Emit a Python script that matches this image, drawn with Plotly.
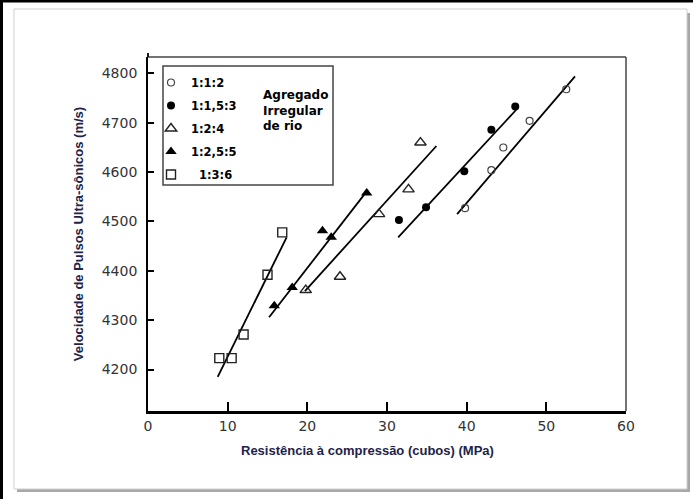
import plotly.graph_objects as go

# ---------------- data ----------------
series_names = ["1:1:2", "1:1,5:3", "1:2:4", "1:2,5:5", "\u00a0\u00a01:3:6"]

x_112 = [39.8, 43.1, 44.6, 47.9, 52.5]
y_112 = [4527, 4604, 4650, 4704, 4768]

x_1153 = [31.5, 34.9, 39.7, 43.1, 46.1]
y_1153 = [4503, 4529, 4602, 4686, 4733]

x_124 = [19.8, 24.1, 29.0, 32.7, 34.2]
y_124 = [4361, 4388, 4515, 4565, 4660]

x_1255 = [15.85, 18.1, 21.9, 23.0, 27.45]
y_1255 = [4329, 4366, 4481, 4468, 4558]

x_136 = [8.95, 10.5, 12.0, 15.0, 16.85]
y_136 = [4223, 4223, 4271, 4392, 4478]

# fitted lines (start / end of each regression line)
fit_x_112 = [38.8, 53.6];  fit_y_112 = [4515, 4794]
fit_x_1153 = [31.4, 46.2]; fit_y_1153 = [4468, 4726]
fit_x_124 = [19.7, 36.2];  fit_y_124 = [4359, 4653]
fit_x_1255 = [15.2, 27.6]; fit_y_1255 = [4306, 4564]
fit_x_136 = [8.75, 17.4];  fit_y_136 = [4185, 4468]

x_ticks = [0, 10, 20, 30, 40, 50, 60]
y_ticks = [4200, 4300, 4400, 4500, 4600, 4700, 4800]

x_title = "Resistência à compressão (cubos) (MPa)"
y_title = "Velocidade de Pulsos Ultra-sônicos (m/s)"
note_text = "Agregado<br>Irregular<br>de rio"

# ---------------- geometry helpers ----------------
W, H = 693, 499
L, R, T, B = 148, 626, 57, 411
PW, PH = R - L, B - T


def px(x):
    return (x - L) / PW


def py(y):
    return (B - y) / PH


NAVY = "#22224a"
fig = go.Figure()

marker_styles = [
    dict(symbol="circle-open", size=7, color="#444", line=dict(width=1.2, color="#444")),
    dict(symbol="circle", size=8, color="black"),
    dict(symbol="triangle-up-open", size=10, color="#222", line=dict(width=1.4, color="#222")),
    dict(symbol="triangle-up", size=10, color="black"),
    dict(symbol="square-open", size=9, color="#222", line=dict(width=1.4, color="#222")),
]

pts = [(x_112, y_112), (x_1153, y_1153), (x_124, y_124), (x_1255, y_1255), (x_136, y_136)]
fits = [(fit_x_112, fit_y_112), (fit_x_1153, fit_y_1153), (fit_x_124, fit_y_124),
        (fit_x_1255, fit_y_1255), (fit_x_136, fit_y_136)]

for (fx, fy) in fits:
    fig.add_trace(go.Scatter(x=fx, y=fy, mode="lines", line=dict(color="black", width=1.8),
                             showlegend=False, hoverinfo="skip"))

for i, ((xs, ys), name) in enumerate(zip(pts, series_names)):
    fig.add_trace(go.Scatter(x=xs, y=ys, mode="markers", name=name,
                             marker=marker_styles[i], legendgroup=f"g{i}"))

shapes = [
    # card shadow
    dict(type="rect", xref="paper", yref="paper", x0=px(17), x1=px(690), y0=py(13), y1=py(492),
         fillcolor="#a8a8a8", line=dict(width=0), layer="below"),
    # card
    dict(type="rect", xref="paper", yref="paper", x0=px(14), x1=px(687), y0=py(9), y1=py(489),
         fillcolor="white", line=dict(width=1, color="#cfcfcf"), layer="below"),
    # outer black border (top and left)
    dict(type="rect", xref="paper", yref="paper", x0=px(0), x1=px(693), y0=py(0), y1=py(2.5),
         fillcolor="black", line=dict(width=0)),
    dict(type="rect", xref="paper", yref="paper", x0=px(0), x1=px(3), y0=py(0), y1=py(499),
         fillcolor="black", line=dict(width=0)),
    # top and right frame lines
    dict(type="line", xref="paper", yref="paper", x0=0, x1=1, y0=1, y1=1,
         line=dict(color="#444", width=1.5)),
    dict(type="line", xref="paper", yref="paper", x0=1, x1=1, y0=0, y1=1,
         line=dict(color="#444", width=1.5)),
    # left axis small overshoot above the top frame
    dict(type="line", xref="paper", yref="paper", x0=0, x1=0, y0=1, y1=py(53),
         line=dict(color="black", width=1.8)),
    # legend box
    dict(type="rect", xref="paper", yref="paper", x0=px(163), x1=px(333), y0=py(66), y1=py(185),
         line=dict(color="#444", width=1.5)),
]

fig.update_layout(
    width=W, height=H,
    margin=dict(l=L, r=W - R, t=T, b=H - B, pad=0),
    paper_bgcolor="white", plot_bgcolor="white",
    showlegend=True,
    legend=dict(x=px(151), y=py(68), xanchor="left", yanchor="top",
                bgcolor="rgba(0,0,0,0)", borderwidth=0, tracegroupgap=4,
                font=dict(family="DejaVu Sans", size=11.5, color="black", weight="bold")),
    shapes=shapes,
    annotations=[
        dict(x=px(261), y=py(110), xref="paper", yref="paper", text=note_text,
             showarrow=False, xanchor="left", yanchor="middle", align="left",
             font=dict(family="DejaVu Sans", size=12, color="black", weight="bold")),
        dict(x=px(367), y=py(450), xref="paper", yref="paper", text=x_title,
             showarrow=False, xanchor="center", yanchor="middle",
             font=dict(family="Liberation Sans", size=13, color=NAVY, weight="bold")),
    ],
    font=dict(family="DejaVu Sans", color="#333"),
)

fig.update_xaxes(range=[0, 60], tickvals=x_ticks, ticks="inside", ticklen=9, tickwidth=2,
                 tickcolor="black", showline=True, linecolor="black", linewidth=2.5,
                 showgrid=False, zeroline=False,
                 tickfont=dict(family="DejaVu Sans", size=14, color="#333"))

fig.update_yaxes(range=[4115.9, 4833.4], tickvals=y_ticks, ticks="inside", ticklen=6, tickwidth=1.5,
                 tickcolor="black", showline=True, linecolor="black", linewidth=1.8,
                 showgrid=False, zeroline=False, ticklabelstandoff=6,
                 tickfont=dict(family="DejaVu Sans", size=14, color="#333"),
                 title=dict(text=y_title, standoff=15,
                            font=dict(family="Liberation Sans", size=13, color=NAVY, weight="bold")))

fig.write_html("out.html")
